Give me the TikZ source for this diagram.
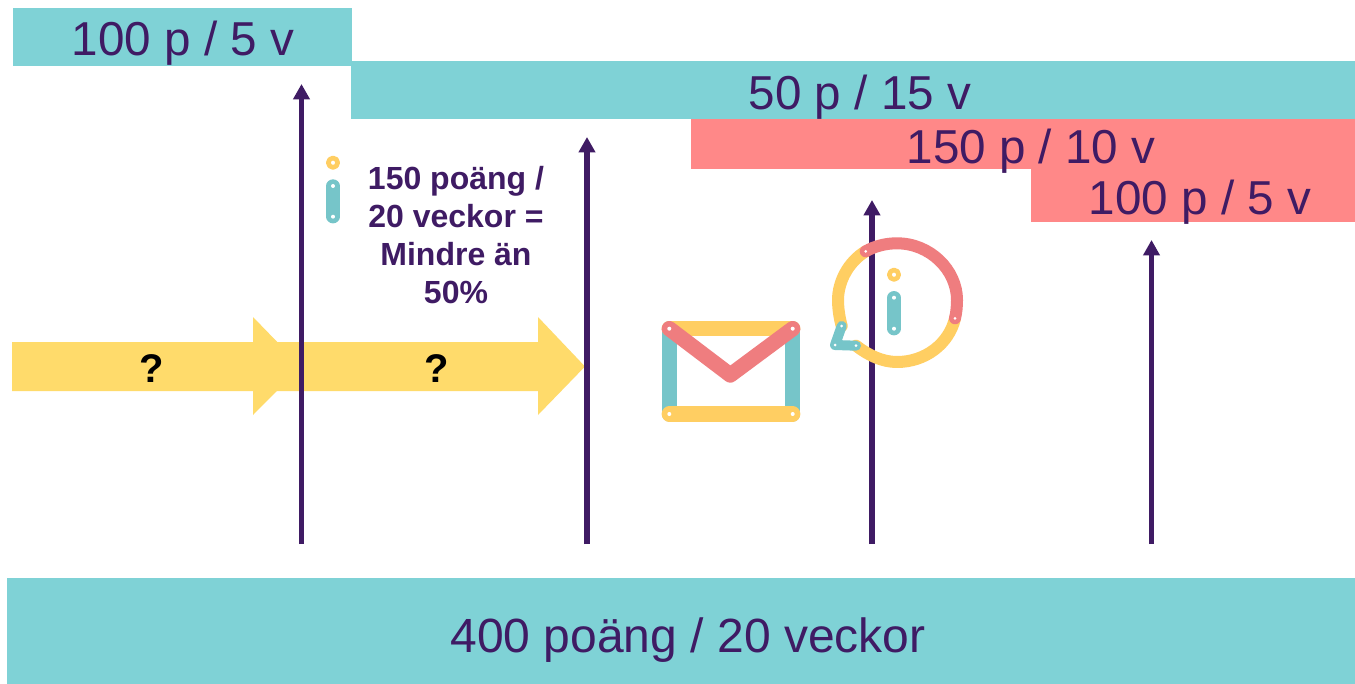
\documentclass[tikz,border=0pt]{standalone}
\usepackage{fontspec}
\setmainfont{Liberation Sans}
\definecolor{tealbar}{HTML}{7FD2D6}
\definecolor{redbar}{HTML}{FF8888}
\definecolor{purp}{HTML}{3F1B64}
\definecolor{yarrow}{HTML}{FFDB6B}
\definecolor{icored}{HTML}{EF7D7F}
\definecolor{icoyel}{HTML}{FFCE62}
\definecolor{icotea}{HTML}{76C5C9}
\usetikzlibrary{arrows.meta,positioning}
\tikzset{
  bar/.style={draw=none,inner sep=0pt,anchor=north west,text=purp},
  bartext/.style={text=purp,font=\fontsize{35.7}{36}\selectfont,inner sep=0pt},
  vline/.style={draw=purp,line width=4.2pt,-{Triangle[length=11.5pt,width=12pt]}},
  yarrowshape/.style={fill=yarrow,draw=none},
  qmark/.style={font=\bfseries\fontsize{30}{30}\selectfont,text=black,inner sep=0pt},
  ired/.style={draw=icored,line cap=round,line join=round},
  iyel/.style={draw=icoyel,line cap=round,line join=round},
  itea/.style={draw=icotea,line cap=round,line join=round},
  hole/.style={fill=white,draw=none},
}
\begin{document}
\begin{tikzpicture}[x=0.75pt,y=-0.75pt]
\useasboundingbox (0,0) rectangle (1355,684);
\fill[white] (0,0) rectangle (1355,684);
% bars
\node[bar,fill=tealbar,minimum width=254.25pt,minimum height=43.5pt] (b1) at (13,8) {};
\node[bartext] (t1) at (183,43) {100 p / 5 v};
\node[bar,fill=tealbar,minimum width=753pt,minimum height=43.5pt] (b2) at (351,61) {};
\node[bartext] (t2) at (860,97) {50 p / 15 v};
\node[bar,fill=redbar,minimum width=498pt,minimum height=37.5pt] (b3) at (691,119) {};
\node[bartext] (t3) at (1031,151) {150 p / 10 v};
\node[bar,fill=redbar,minimum width=243pt,minimum height=39.75pt] (b4) at (1031,169) {};
\node[bartext] (t4) at (1200,202) {100 p / 5 v};
\node[bar,fill=tealbar,minimum width=1011pt,minimum height=79.5pt] (b5) at (7,578) {};
\node[bartext,font=\fontsize{36}{36}\selectfont] (t5) at (688,640) {400 poäng / 20 veckor};
% yellow arrows
\path[yarrowshape] (12,342) -- (253,342) -- (253,317) -- (301,366.5) -- (253,415) -- (253,391) -- (12,391) -- cycle;
\path[yarrowshape] (270,342) -- (538,342) -- (538,317) -- (585,366.5) -- (538,415) -- (538,391) -- (270,391) -- cycle;
\node[qmark] (q1) at (152,369) {?};
\node[qmark] (q2) at (437,369) {?};
% vertical arrows
\coordinate (a1s) at (301.5,544); \coordinate (a1e) at (301.5,84);
\coordinate (a2s) at (587,544); \coordinate (a2e) at (587,137);
\coordinate (a3s) at (872,544); \coordinate (a3e) at (872,200);
\coordinate (a4s) at (1151.5,544); \coordinate (a4e) at (1151.5,240);
\draw[vline] (a1s) -- (a1e);
\draw[vline] (a2s) -- (a2e);
\draw[vline] (a3s) -- (a3e);
\draw[vline] (a4s) -- (a4e);
% text
\node[text=purp,font=\bfseries\fontsize{24}{28.6}\selectfont,align=center,inner sep=0pt,anchor=north] (info) at (456,166) {150 poäng /\\20 veckor =\\Mindre än\\50\%};
% left i
\draw[iyel,line width=3.5pt] (333,162.7) circle (4.7);
\draw[itea,line width=10pt] (333,186) -- (333,216.7);
\fill[hole] (333,186) circle (2) (333,216.7) circle (2);
% envelope
\draw[itea,line width=11.5pt] (669.3,328.7) -- (669.3,414);
\draw[itea,line width=11.5pt] (792.7,328.7) -- (792.7,414);
\draw[iyel,line width=11.5pt] (669.3,328.7) -- (792.7,328.7);
\draw[iyel,line width=11.5pt] (669.3,414) -- (792.7,414);
\draw[ired,line width=11.5pt] (669.3,328.7) -- (730.3,375) -- (792.7,328.7);
\fill[hole] (669.3,328.7) circle (2) (792.7,328.7) circle (2) (669.3,414) circle (2) (792.7,414) circle (2);
% info bubble
\draw[iyel,line width=9pt] (865.7,251.3) .. controls (848,262) and (838,282) .. (838,300) .. controls (838,310) and (840,320) .. (841.7,326);
\draw[iyel,line width=9pt] (856,345.7) .. controls (868,355) and (882,362) .. (897,362) .. controls (925,362) and (949,344) .. (955,318.3);
\draw[ired,line width=9pt] (865.7,251.3) .. controls (875,246) and (886,243.3) .. (897,243.3) .. controls (930,243.3) and (957,270) .. (957,300) .. controls (957,306) and (956.5,312) .. (955,318.3);
\draw[itea,line width=7.5pt] (841.7,326) -- (835,345) -- (856,345.7);
\fill[hole] (865.7,251.3) circle (1.5) (955,318.3) circle (1.5) (841.7,326) circle (1.5) (835,345) circle (1.5) (856,345.7) circle (1.5);
\draw[iyel,line width=3.5pt] (894,274.7) circle (4.7);
\draw[itea,line width=10pt] (894,297.7) -- (894,328.7);
\fill[hole] (894,297.7) circle (2) (894,328.7) circle (2);
\end{tikzpicture}
\end{document}
